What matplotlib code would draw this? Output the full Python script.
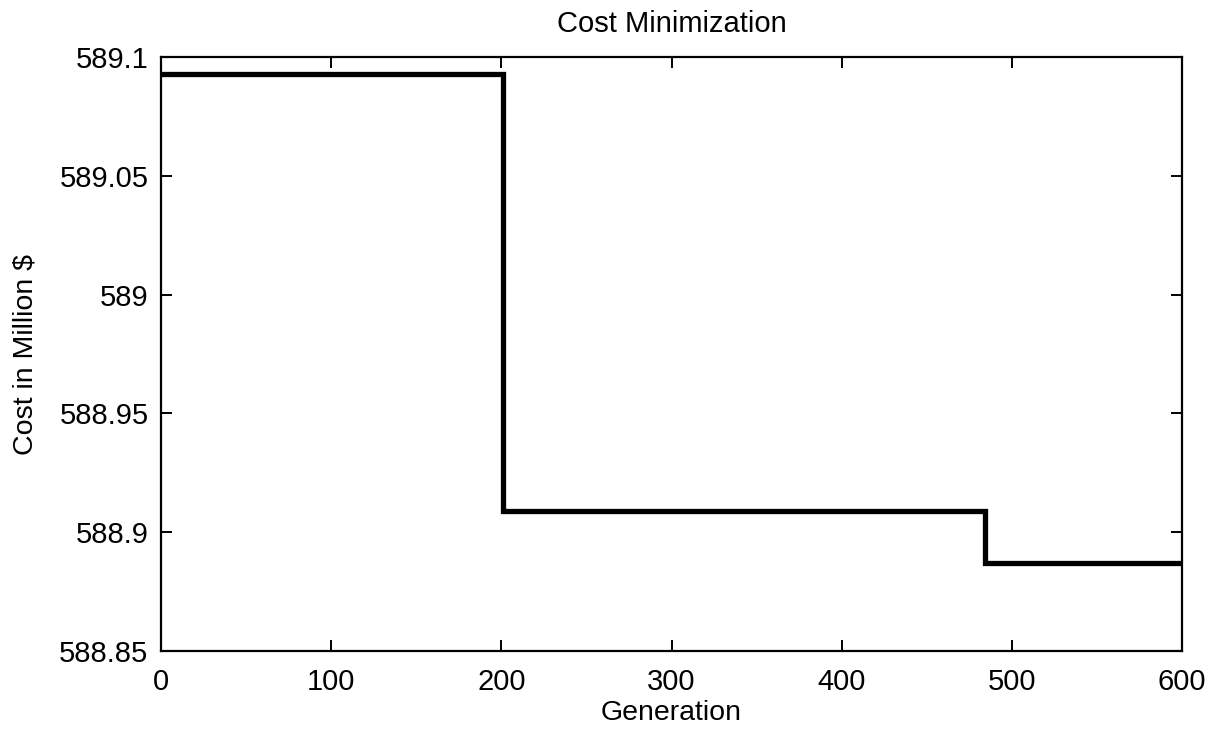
import matplotlib
matplotlib.use("Agg")
import matplotlib.pyplot as plt

# Best cost per generation (piecewise constant)
generations = [0, 201, 201, 484, 484, 600]
cost = [589.0928, 589.0928, 588.9091, 588.9091, 588.8870, 588.8870]

x_ticks = [0, 100, 200, 300, 400, 500, 600]
y_ticks = [588.85, 588.9, 588.95, 589.0, 589.05, 589.1]
y_tick_labels = ["588.85", "588.9", "588.95", "589", "589.05", "589.1"]

sans = ["Liberation Sans", "DejaVu Sans"]

fig = plt.figure(figsize=(12.19, 7.34), dpi=100)
ax = fig.add_axes([161 / 1219, 1 - 651 / 734, (1182 - 161) / 1219, (651 - 57) / 734])

ax.plot(generations, cost, color="black", linewidth=3.8, solid_joinstyle="miter")

ax.set_xlim(0, 600)
ax.set_ylim(588.85, 589.1)
ax.set_xticks(x_ticks)
ax.set_xticklabels([str(v) for v in x_ticks])
ax.set_yticks(y_ticks)
ax.set_yticklabels(y_tick_labels)

ax.tick_params(axis="both", direction="in", length=8, width=1.4,
               top=True, right=True, labelsize=21, colors="black")
ax.tick_params(axis="x", pad=12)
ax.tick_params(axis="y", pad=9)
for lbl in ax.get_xticklabels() + ax.get_yticklabels():
    lbl.set_fontfamily(sans)

for sp in ax.spines.values():
    sp.set_linewidth(1.6)
    sp.set_color("black")

ax.set_title("Cost Minimization", fontsize=21, family=sans, pad=18)
ax.set_xlabel("Generation", fontsize=20.5, family=sans, labelpad=3)
ax.set_ylabel("Cost in Million $", fontsize=20.5, family=sans, labelpad=15)

fig.savefig("out.png", dpi=100, facecolor="white")
